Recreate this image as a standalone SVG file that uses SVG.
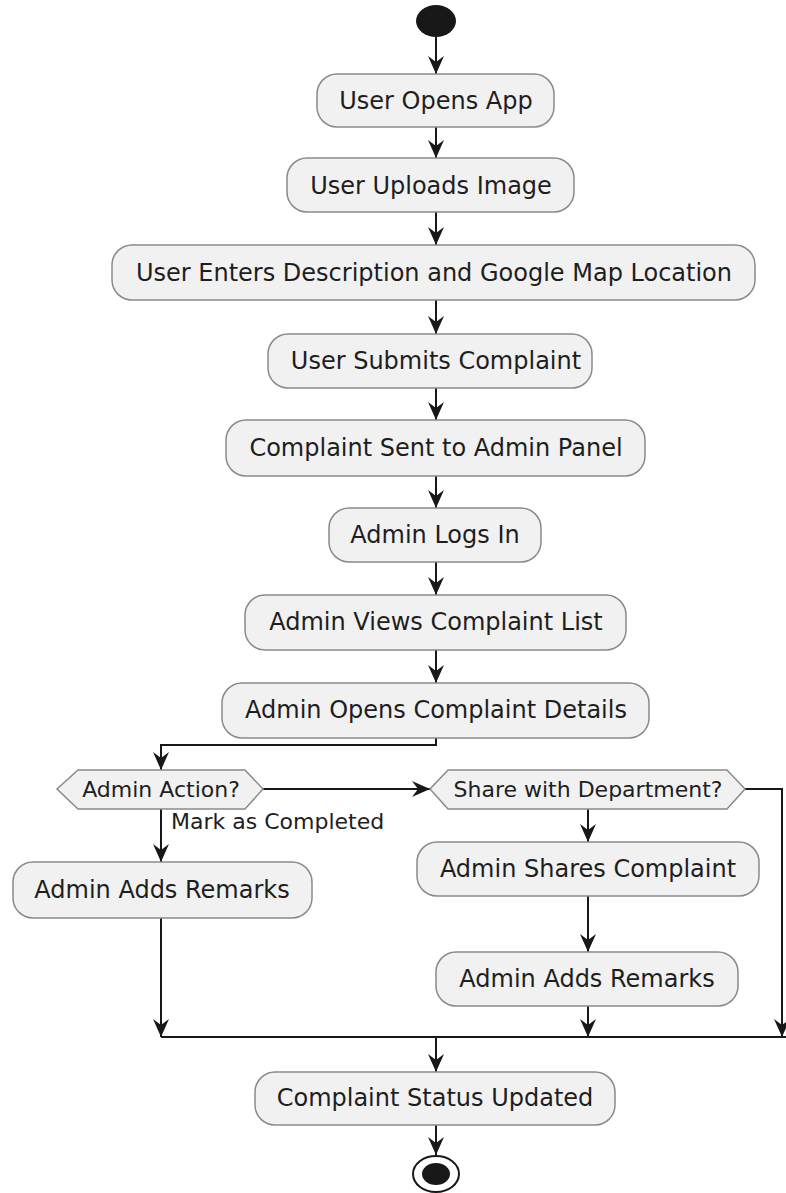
<svg xmlns="http://www.w3.org/2000/svg" width="786" height="1193" viewBox="0 0 786 1193">
<defs>
<style>
.box{fill:#f1f1f1;stroke:#8a8a8a;stroke-width:1.5}
.t{font-family:"DejaVu Sans",sans-serif;font-size:24px;fill:#1e1e1e;text-anchor:middle}
.td{font-family:"DejaVu Sans",sans-serif;font-size:22px;fill:#1e1e1e;text-anchor:middle}
.tl{font-family:"DejaVu Sans",sans-serif;font-size:22px;fill:#1e1e1e}
.c{fill:none;stroke:#181818;stroke-width:2}
</style>
<marker id="ah" viewBox="0 0 20 18" refX="18" refY="9" markerWidth="20" markerHeight="18" markerUnits="userSpaceOnUse" orient="auto">
<path d="M0,1 L18,9 L0,17 L6,9 Z" fill="#181818"/>
</marker>
</defs>
<rect width="786" height="1193" fill="#ffffff"/>
<g id="connectors">
<line class="c" x1="436" y1="37" x2="436" y2="74" marker-end="url(#ah)"/>
<line class="c" x1="436" y1="127" x2="436" y2="158" marker-end="url(#ah)"/>
<line class="c" x1="436" y1="212" x2="436" y2="245" marker-end="url(#ah)"/>
<line class="c" x1="436" y1="300" x2="436" y2="334" marker-end="url(#ah)"/>
<line class="c" x1="436" y1="388" x2="436" y2="420" marker-end="url(#ah)"/>
<line class="c" x1="436" y1="476" x2="436" y2="508" marker-end="url(#ah)"/>
<line class="c" x1="436" y1="562" x2="436" y2="595" marker-end="url(#ah)"/>
<line class="c" x1="436" y1="650" x2="436" y2="683" marker-end="url(#ah)"/>
<polyline class="c" points="436,738 436,745 161,745 161,770" marker-end="url(#ah)"/>
<line class="c" x1="263" y1="789" x2="430" y2="789" marker-end="url(#ah)"/>
<line class="c" x1="161" y1="809" x2="161" y2="862" marker-end="url(#ah)"/>
<line class="c" x1="588" y1="809" x2="588" y2="842" marker-end="url(#ah)"/>
<line class="c" x1="588" y1="896" x2="588" y2="952" marker-end="url(#ah)"/>
<line class="c" x1="161" y1="918" x2="161" y2="1037" marker-end="url(#ah)"/>
<line class="c" x1="588" y1="1006" x2="588" y2="1037" marker-end="url(#ah)"/>
<polyline class="c" points="745,789 782,789 782,1037" marker-end="url(#ah)"/>
<line class="c" x1="161" y1="1037" x2="786" y2="1037"/>
<line class="c" x1="436" y1="1037" x2="436" y2="1072" marker-end="url(#ah)"/>
<line class="c" x1="436" y1="1125" x2="436" y2="1155" marker-end="url(#ah)"/>
<text class="tl" x="171" y="829">Mark as Completed</text>
</g>
<g id="start"><ellipse cx="436" cy="21" rx="20" ry="16" fill="#181818"/></g>
<g id="n1"><rect class="box" x="317" y="74" width="237" height="53" rx="20"/><text class="t" x="436" y="109">User Opens App</text></g>
<g id="n2"><rect class="box" x="287" y="158" width="287" height="54" rx="20"/><text class="t" x="431" y="194">User Uploads Image</text></g>
<g id="n3"><rect class="box" x="112" y="245" width="643" height="55" rx="20"/><text class="t" x="434" y="281">User Enters Description and Google Map Location</text></g>
<g id="n4"><rect class="box" x="268" y="334" width="324" height="54" rx="20"/><text class="t" x="436" y="369">User Submits Complaint</text></g>
<g id="n5"><rect class="box" x="226" y="420" width="419" height="56" rx="20"/><text class="t" x="436" y="456">Complaint Sent to Admin Panel</text></g>
<g id="n6"><rect class="box" x="329" y="508" width="212" height="54" rx="20"/><text class="t" x="435" y="543">Admin Logs In</text></g>
<g id="n7"><rect class="box" x="245" y="595" width="381" height="55" rx="20"/><text class="t" x="436" y="630">Admin Views Complaint List</text></g>
<g id="n8"><rect class="box" x="222" y="683" width="427" height="55" rx="20"/><text class="t" x="436" y="718">Admin Opens Complaint Details</text></g>
<g id="d1"><polygon class="box" points="57,789 78,770 245,770 263,789 245,809 78,809"/><text class="td" x="161" y="797">Admin Action?</text></g>
<g id="d2"><polygon class="box" points="430,789 448,770 727,770 745,789 727,809 448,809"/><text class="td" x="588" y="797">Share with Department?</text></g>
<g id="n9"><rect class="box" x="13" y="862" width="299" height="56" rx="20"/><text class="t" x="162" y="898">Admin Adds Remarks</text></g>
<g id="n10"><rect class="box" x="417" y="842" width="342" height="54" rx="20"/><text class="t" x="588" y="877">Admin Shares Complaint</text></g>
<g id="n11"><rect class="box" x="436" y="952" width="302" height="54" rx="20"/><text class="t" x="587" y="987">Admin Adds Remarks</text></g>
<g id="n12"><rect class="box" x="255" y="1072" width="360" height="53" rx="20"/><text class="t" x="435" y="1106">Complaint Status Updated</text></g>
<g id="end"><ellipse cx="436" cy="1174" rx="23" ry="18" fill="#ffffff" stroke="#181818" stroke-width="2"/><ellipse cx="436" cy="1174" rx="14" ry="11" fill="#181818"/></g>
</svg>
